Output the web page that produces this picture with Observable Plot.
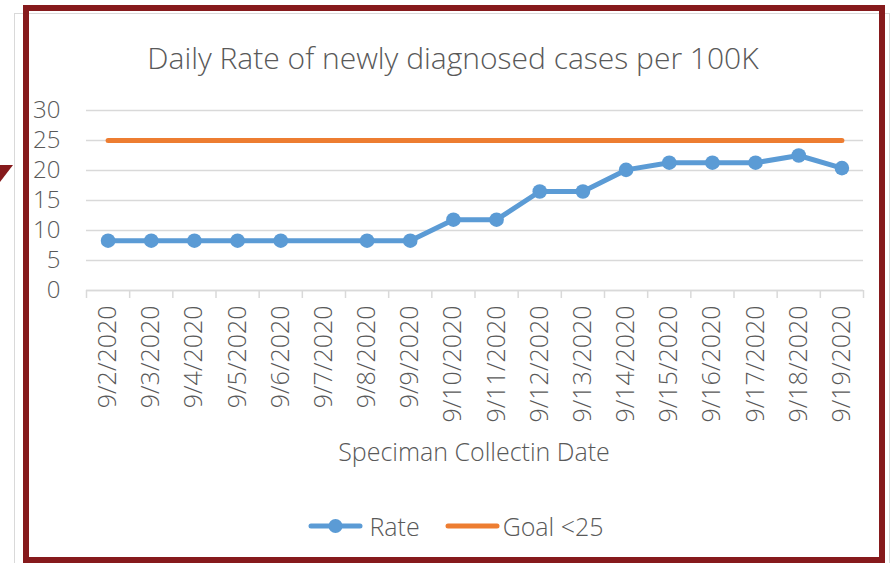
<!DOCTYPE html>
<html>
<head>
<meta charset="utf-8">
<script src="https://cdn.jsdelivr.net/npm/d3@7"></script>
<script src="https://cdn.jsdelivr.net/npm/@observablehq/plot@0.6"></script>
<style>
  html, body { margin: 0; padding: 0; background: #fff; }
  body { width: 894px; height: 563px; overflow: hidden; position: relative; font-family: "Open Sans", sans-serif; font-weight: 300; color: #595959; }
  .gray { position: absolute; left: 14px; top: 13px; width: 876px; height: 600px; border: 1.5px solid #d9d9d9; box-sizing: border-box; }
  .red { position: absolute; left: 23px; top: 5px; width: 862px; height: 558px; border: 6px solid #861A1C; box-sizing: border-box; }
  .tri { position: absolute; left: 0; top: 165px; width: 0; height: 0; border-top: 17px solid #861A1C; border-right: 13px solid transparent; }
  .title { position: absolute; left: 0; width: 906px; top: 40px; text-align: center; font-size: 30px; line-height: 36px; white-space: nowrap; }
  .xtitle { position: absolute; left: 0; width: 948px; top: 435px; text-align: center; font-size: 25px; line-height: 32px; white-space: nowrap; }
  #chart { position: absolute; left: 0; top: 90px; }
  .legend { position: absolute; left: 0; width: 912px; top: 510px; display: flex; justify-content: center; align-items: center; font-size: 25px; line-height: 32px; white-space: nowrap; }
  .legend .item { display: flex; align-items: center; }
  .legend .item + .item { margin-left: 25px; }
</style>
</head>
<body>
<div class="gray"></div>
<div class="red"></div>
<div class="tri"></div>
<div class="title">Daily Rate of newly diagnosed cases per 100K</div>
<div id="chart"></div>
<div class="xtitle">Speciman Collectin Date</div>
<div class="legend" id="legend"></div>
<script>
const dates = ["9/2/2020","9/3/2020","9/4/2020","9/5/2020","9/6/2020","9/7/2020","9/8/2020","9/9/2020","9/10/2020","9/11/2020","9/12/2020","9/13/2020","9/14/2020","9/15/2020","9/16/2020","9/17/2020","9/18/2020","9/19/2020"];
const rate = [8.3,8.3,8.3,8.3,8.3,null,8.3,8.3,11.8,11.8,16.5,16.5,20.1,21.3,21.3,21.3,22.5,20.4];
const goal = [25,25,25,25,25,25,25,25,25,25,25,25,25,25,25,25,25,25];
const yTicks = [0,5,10,15,20,25,30];
const seriesNames = ["Rate","Goal <25"];
const colors = ["#5B9BD5","#ED7D31"];

const rateData = dates.map((d, i) => ({i: i + 0.5, date: d, v: rate[i]})).filter(d => d.v != null);
const goalData = dates.map((d, i) => ({i: i + 0.5, date: d, v: goal[i]}));
const boundaries = d3.range(dates.length + 1);
const centers = dates.map((d, i) => i + 0.5);

const chart = Plot.plot({
  width: 894,
  height: 345,
  marginLeft: 86,
  marginRight: 31,
  marginTop: 20,
  marginBottom: 145,
  style: {fontFamily: "Open Sans, sans-serif", fontWeight: 300, color: "#595959", background: "transparent"},
  x: {type: "linear", domain: [0, dates.length]},
  y: {domain: [0, 30]},
  marks: [
    Plot.gridY(yTicks, {stroke: "#d9d9d9", strokeOpacity: 1, strokeWidth: 1.5}),
    Plot.axisY(yTicks, {tickSize: 0, tickPadding: 26, fontSize: 24, fill: "#595959", label: null}),
    Plot.axisX(boundaries, {tickSize: 8, tickFormat: () => "", stroke: "#d9d9d9", strokeWidth: 1.5, label: null}),
    Plot.axisX(centers, {tickSize: 0, tickPadding: 15, tickRotate: -90, tickFormat: d => dates[Math.floor(d)], fontSize: 25, fill: "#595959", label: null}),
    Plot.ruleY([0], {stroke: "#d9d9d9", strokeWidth: 1.5}),
    Plot.line(goalData, {x: "i", y: "v", stroke: colors[1], strokeWidth: 5, strokeLinecap: "round"}),
    Plot.line(rateData, {x: "i", y: "v", stroke: colors[0], strokeWidth: 5, strokeLinejoin: "round"}),
    Plot.dot(rateData, {x: "i", y: "v", r: 7.3, fill: colors[0], stroke: "none"})
  ]
});
document.getElementById("chart").appendChild(chart);

const legend = document.getElementById("legend");
seriesNames.forEach((name, k) => {
  const item = document.createElement("div");
  item.className = "item";
  const marker = k === 0
    ? `<svg width="55" height="16" style="margin-right:6px"><line x1="3" y1="8" x2="52" y2="8" stroke="${colors[0]}" stroke-width="5" stroke-linecap="round"/><circle cx="27.5" cy="8" r="7" fill="${colors[0]}"/></svg>`
    : `<svg width="55" height="16" style="margin-right:3px"><line x1="3" y1="8" x2="52" y2="8" stroke="${colors[1]}" stroke-width="5" stroke-linecap="round"/></svg>`;
  item.innerHTML = marker + `<span>${name}</span>`;
  legend.appendChild(item);
});
</script>
</body>
</html>
